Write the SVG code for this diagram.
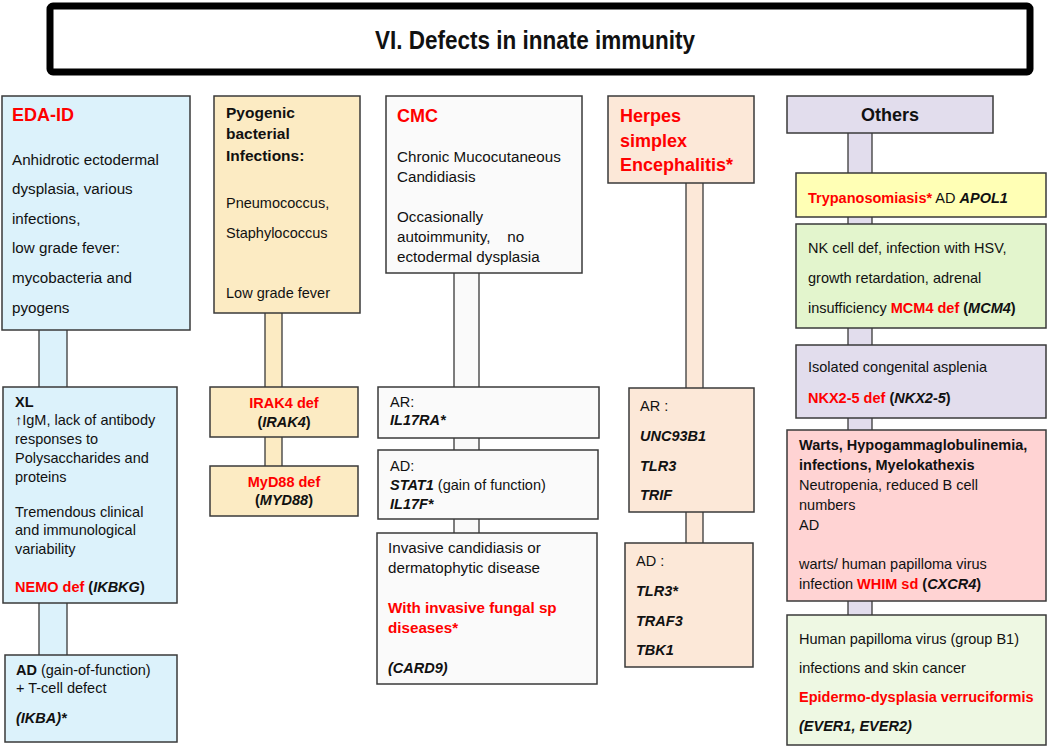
<svg xmlns="http://www.w3.org/2000/svg" width="1050" height="747" viewBox="0 0 1050 747">
<style>
text{font-family:"Liberation Sans",Arial,sans-serif;font-size:14.5px;fill:#111}
.l{font-size:15.2px}
.b{font-weight:bold}
.i{font-style:italic}
.bi{font-weight:bold;font-style:italic}
.r{fill:#ff0000;font-weight:bold}
.h{font-size:18px;font-weight:bold}
.box{stroke:#3a3a3a;stroke-width:1.5}
.con{stroke:#3a3a3a;stroke-width:1.3}
.blue{fill:#dcf2fb}
.tan{fill:#fcebc3}
.grey{fill:#fafafa}
.peach{fill:#fce8d8}
.lav{fill:#e2dded}
.mid{text-anchor:middle}
</style>
<rect width="1050" height="747" fill="#ffffff"/>
<g id="title">
<rect x="50" y="6" width="980" height="66" rx="3" fill="#ffffff" stroke="#000" stroke-width="7"/>
<text x="535" y="49" class="mid" style="font-size:25px;font-weight:bold" textLength="320" lengthAdjust="spacingAndGlyphs">VI. Defects in innate immunity</text>
</g>
<g id="connectors">
<rect class="con blue" x="39" y="329" width="28" height="59"/>
<rect class="con blue" x="39" y="602" width="28" height="54"/>
<rect class="con tan" x="265" y="312" width="17" height="76"/>
<rect class="con tan" x="265" y="436" width="17" height="31"/>
<rect class="con grey" x="454" y="272" width="25" height="116"/>
<rect class="con grey" x="454" y="437" width="25" height="14"/>
<rect class="con grey" x="454" y="518" width="25" height="16"/>
<rect class="con peach" x="686" y="182" width="17" height="207"/>
<rect class="con peach" x="686" y="511" width="17" height="33"/>
<rect class="con lav" x="848" y="132" width="24" height="42"/>
<rect class="con lav" x="848" y="216" width="24" height="9"/>
<rect class="con lav" x="848" y="327" width="24" height="19"/>
<rect class="con lav" x="848" y="417" width="24" height="14"/>
<rect class="con lav" x="848" y="600" width="24" height="16"/>
</g>
<g id="eda-id">
<rect class="box blue" x="2" y="96" width="188" height="234"/>
<text x="12" y="121" class="h r">EDA-ID</text>
<text x="12" y="165" class="l">Anhidrotic ectodermal</text>
<text x="12" y="194" class="l">dysplasia, various</text>
<text x="12" y="224" class="l">infections,</text>
<text x="12" y="253" class="l">low grade fever:</text>
<text x="12" y="283" class="l">mycobacteria and</text>
<text x="12" y="313" class="l">pyogens</text>
</g>
<g id="nemo">
<rect class="box blue" x="3" y="387" width="174" height="216"/>
<text x="15" y="407" class="b">XL</text>
<text x="15" y="425">↑IgM, lack of antibody</text>
<text x="15" y="444">responses to</text>
<text x="15" y="463">Polysaccharides and</text>
<text x="15" y="482">proteins</text>
<text x="15" y="517">Tremendous clinical</text>
<text x="15" y="535">and immunological</text>
<text x="15" y="554">variability</text>
<text x="15" y="592"><tspan class="r">NEMO def</tspan><tspan class="b"> (</tspan><tspan class="bi">IKBKG</tspan><tspan class="b">)</tspan></text>
</g>
<g id="ikba">
<rect class="box blue" x="5" y="655" width="172" height="87"/>
<text x="16" y="675"><tspan class="b">AD</tspan> (gain-of-function)</text>
<text x="16" y="693">+ T-cell defect</text>
<text x="16" y="723" class="bi">(IKBA)*</text>
</g>
<g id="pyogenic">
<rect class="box tan" x="214" y="96" width="146" height="217"/>
<text x="226" y="118" class="b" style="font-size:15.5px">Pyogenic</text>
<text x="226" y="139" class="b" style="font-size:15.5px">bacterial</text>
<text x="226" y="161" class="b" style="font-size:15.5px">Infections:</text>
<text x="226" y="208">Pneumococcus,</text>
<text x="226" y="238">Staphylococcus</text>
<text x="226" y="298">Low grade fever</text>
</g>
<g id="irak4">
<rect class="box tan" x="210" y="387" width="148" height="50"/>
<text x="284" y="408" class="mid r">IRAK4 def</text>
<text x="284" y="427" class="mid b">(<tspan class="bi">IRAK4</tspan>)</text>
</g>
<g id="myd88">
<rect class="box tan" x="210" y="466" width="148" height="50"/>
<text x="284" y="487" class="mid r">MyD88 def</text>
<text x="284" y="505" class="mid b">(<tspan class="bi">MYD88</tspan>)</text>
</g>
<g id="cmc">
<rect class="box grey" x="386" y="96" width="196" height="177"/>
<text x="397" y="122" class="h r">CMC</text>
<text x="397" y="162" class="l">Chronic Mucocutaneous</text>
<text x="397" y="182" class="l">Candidiasis</text>
<text x="397" y="222" class="l">Occasionally</text>
<text x="397" y="242" class="l" xml:space="preserve">autoimmunity,    no</text>
<text x="397" y="262" class="l">ectodermal dysplasia</text>
</g>
<g id="cmc-ar">
<rect class="box grey" x="378" y="387" width="221" height="51"/>
<text x="390" y="407">AR:</text>
<text x="390" y="425" class="bi">IL17RA*</text>
</g>
<g id="cmc-ad">
<rect class="box grey" x="378" y="450" width="220" height="69"/>
<text x="390" y="471">AD:</text>
<text x="390" y="490"><tspan class="bi">STAT1</tspan> (gain of function)</text>
<text x="390" y="509" class="bi">IL17F*</text>
</g>
<g id="card9">
<rect class="box grey" x="377" y="533" width="220" height="151"/>
<text x="388" y="553" class="l">Invasive candidiasis or</text>
<text x="388" y="573" class="l">dermatophytic disease</text>
<text x="388" y="613" class="r l">With invasive fungal sp</text>
<text x="388" y="633" class="r l">diseases*</text>
<text x="388" y="673" class="bi">(CARD9)</text>
</g>
<g id="herpes">
<rect class="box peach" x="608" y="96" width="146" height="87"/>
<text x="620" y="122" class="h r">Herpes</text>
<text x="620" y="147" class="h r">simplex</text>
<text x="620" y="171" class="h r">Encephalitis*</text>
</g>
<g id="hse-ar">
<rect class="box peach" x="629" y="388" width="125" height="124"/>
<text x="640" y="411">AR :</text>
<text x="640" y="441" class="bi">UNC93B1</text>
<text x="640" y="471" class="bi">TLR3</text>
<text x="640" y="500" class="bi">TRIF</text>
</g>
<g id="hse-ad">
<rect class="box peach" x="625" y="543" width="128" height="124"/>
<text x="636" y="566">AD :</text>
<text x="636" y="596" class="bi">TLR3*</text>
<text x="636" y="626" class="bi">TRAF3</text>
<text x="636" y="655" class="bi">TBK1</text>
</g>
<g id="others">
<rect class="box lav" x="787" y="96" width="206" height="37"/>
<text x="890" y="121" class="h mid">Others</text>
</g>
<g id="apol1">
<rect class="box" fill="#ffffb5" x="796" y="173" width="250" height="44"/>
<text x="808" y="203"><tspan class="r">Trypanosomiasis*</tspan> AD <tspan class="bi">APOL1</tspan></text>
</g>
<g id="mcm4">
<rect class="box" fill="#e3f5cd" x="796" y="224" width="250" height="104"/>
<text x="808" y="253">NK cell def, infection with HSV,</text>
<text x="808" y="283">growth retardation, adrenal</text>
<text x="808" y="313">insufficiency <tspan class="r">MCM4 def</tspan><tspan class="b"> (</tspan><tspan class="bi">MCM4</tspan><tspan class="b">)</tspan></text>
</g>
<g id="nkx2-5">
<rect class="box lav" x="796" y="345" width="250" height="73"/>
<text x="808" y="372">Isolated congenital asplenia</text>
<text x="808" y="403"><tspan class="r">NKX2-5 def</tspan><tspan class="b"> (</tspan><tspan class="bi">NKX2-5</tspan><tspan class="b">)</tspan></text>
</g>
<g id="whim">
<rect class="box" fill="#ffd3d3" x="787" y="430" width="259" height="171"/>
<text x="799" y="450" class="b">Warts, Hypogammaglobulinemia,</text>
<text x="799" y="470" class="b">infections, Myelokathexis</text>
<text x="799" y="490">Neutropenia, reduced B cell</text>
<text x="799" y="510">numbers</text>
<text x="799" y="530">AD</text>
<text x="799" y="569">warts/ human papilloma virus</text>
<text x="799" y="589">infection <tspan class="r">WHIM sd</tspan><tspan class="b"> (</tspan><tspan class="bi">CXCR4</tspan><tspan class="b">)</tspan></text>
</g>
<g id="ev">
<rect class="box" fill="#eef8e3" x="787" y="615" width="259" height="130"/>
<text x="799" y="644">Human papilloma virus (group B1)</text>
<text x="799" y="673">infections and skin cancer</text>
<text x="799" y="702" class="r">Epidermo-dysplasia verruciformis</text>
<text x="799" y="731" class="bi">(EVER1, EVER2)</text>
</g>
</svg>
